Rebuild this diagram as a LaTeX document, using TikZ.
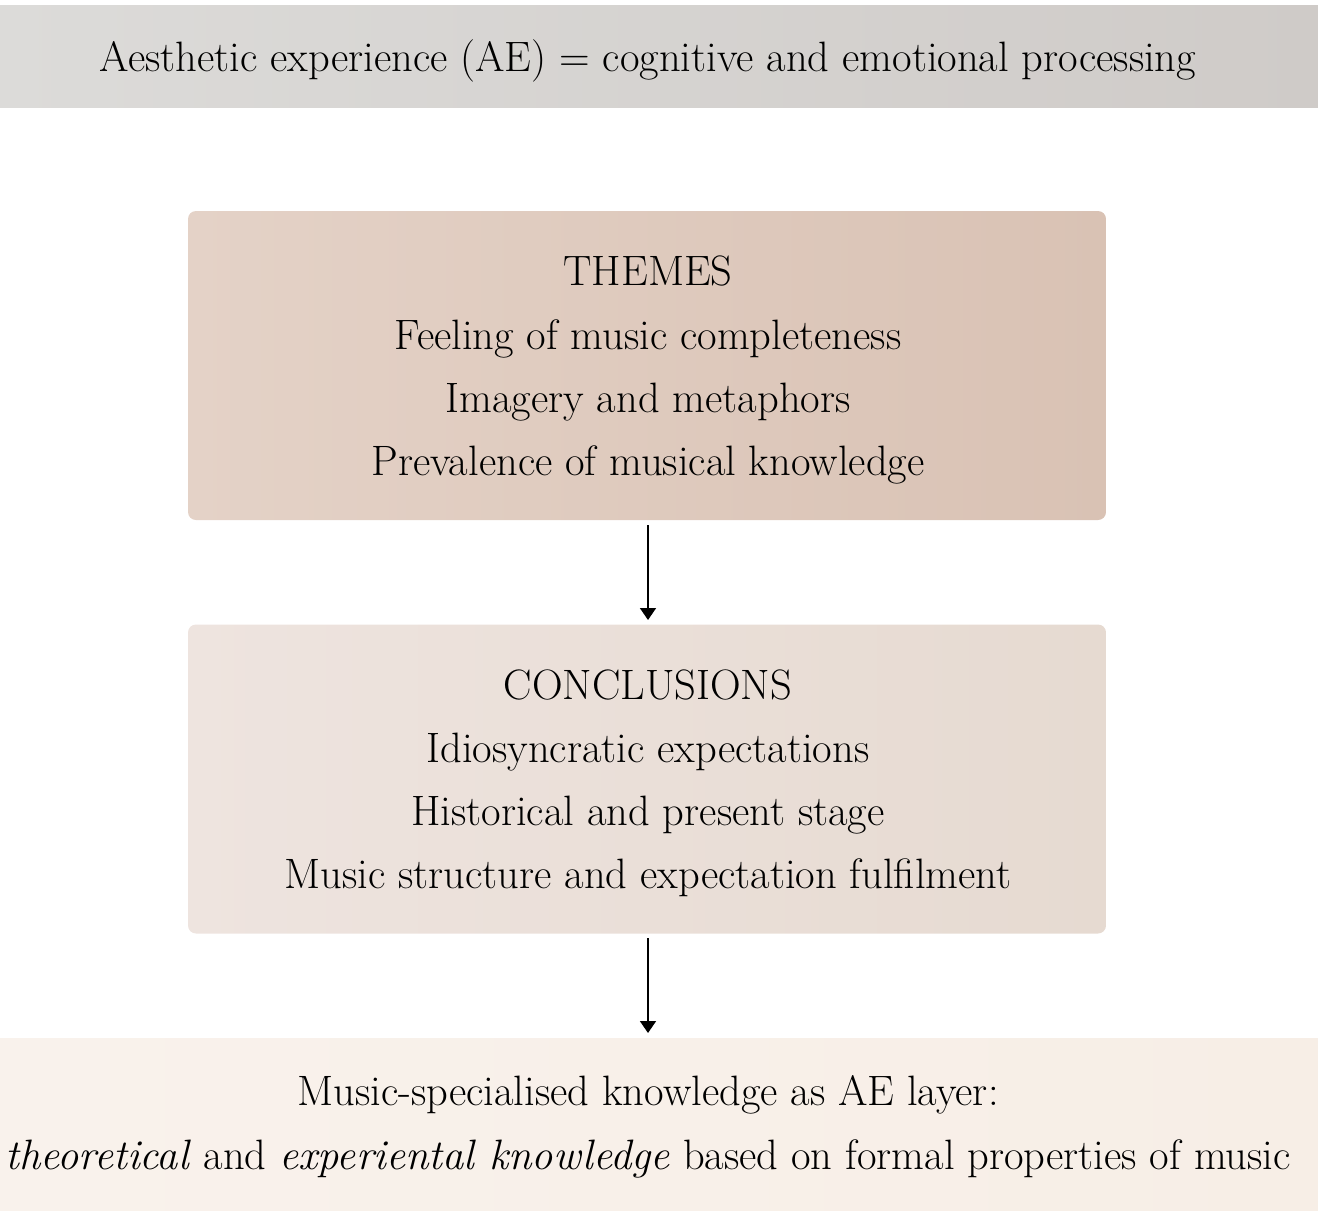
\documentclass[tikz,border=0pt]{standalone}
\usetikzlibrary{arrows.meta}
\begin{document}
\begin{tikzpicture}[x=1pt,y=-1pt,
  txt/.style={font=\fontsize{42.5}{48}\selectfont, inner sep=0pt, anchor=base},
  boxn/.style={minimum width=918pt, minimum height=309pt, inner sep=0pt, rounded corners=8pt},
  arr/.style={line width=1.6pt, -{Triangle[width=16pt,length=12pt]}}]
\useasboundingbox (0,0) rectangle (1318,1216);
\node[minimum width=1318pt, minimum height=102pt, inner sep=0pt, left color={rgb,255:red,220;green,219;blue,217}, right color={rgb,255:red,207;green,203;blue,200}] (top) at (659,56) {};
\node[txt] (toptxt) at (648,71) {Aesthetic experience (AE) = cognitive and emotional processing};
\node[boxn, left color={rgb,255:red,228;green,210;blue,199}, right color={rgb,255:red,217;green,194;blue,180}] (themes) at (647,365.5) {};
\node[txt] (t1) at (648,285) {THEMES};
\node[txt] (t2) at (648,349) {Feeling of music completeness};
\node[txt] (t3) at (648,412) {Imagery and metaphors};
\node[txt] (t4) at (648,475) {Prevalence of musical knowledge};
\node[boxn, left color={rgb,255:red,238;green,228;blue,223}, right color={rgb,255:red,230;green,218;blue,209}] (concl) at (647,779) {};
\node[txt] (c1) at (648,699) {CONCLUSIONS};
\node[txt] (c2) at (648,762) {Idiosyncratic expectations};
\node[txt] (c3) at (648,825) {Historical and present stage};
\node[txt] (c4) at (648,888) {Music structure and expectation fulfilment};
\node[minimum width=1318pt, minimum height=172pt, inner sep=0pt, left color={rgb,255:red,249;green,242;blue,236}, right color={rgb,255:red,247;green,238;blue,230}] (bottom) at (659,1124) {};
\node[txt] (b1) at (648,1105) {Music-specialised knowledge as AE layer:};
\node[txt] (b2) at (648,1169) {\textit{theoretical} and \textit{experiental knowledge} based on formal properties of music};
\coordinate (a1s) at (648,525); \coordinate (a1e) at (648,620);
\coordinate (a2s) at (648,938); \coordinate (a2e) at (648,1033);
\draw[arr] (a1s) -- (a1e);
\draw[arr] (a2s) -- (a2e);
\end{tikzpicture}
\end{document}
